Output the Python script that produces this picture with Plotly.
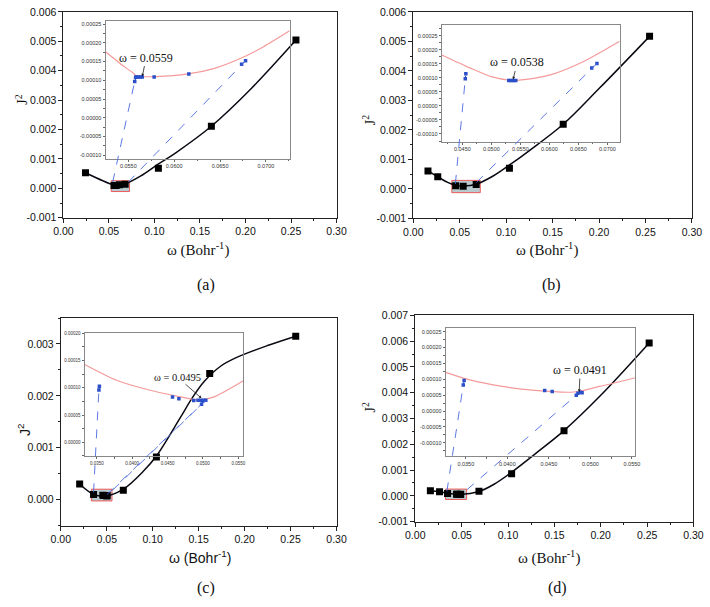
import plotly.graph_objects as go

W, H = 710, 607
SANS = "Liberation Sans, Arial, sans-serif"
SERIF = "Liberation Serif, Times New Roman, serif"

# ---------------- data ----------------
# panel (a)
a_w = [0.0242, 0.0557, 0.0559, 0.0563, 0.0566, 0.0578, 0.0616, 0.0678, 0.1043, 0.1625, 0.2554]
a_j2 = [0.00053, 0.0001, 0.0001, 0.0001, 0.0001, 0.0001, 0.00012, 0.00014, 0.00068, 0.00211, 0.00504]
a_fit_w = [0.0242, 0.0545, 0.060, 0.068, 0.085, 0.104, 0.123, 0.1625, 0.205, 0.2554]
a_fit_j2 = [0.00053, 0.00012, 0.0001, 0.00015, 0.00042, 0.00082, 0.0012, 0.00211, 0.00335, 0.00504]
a_in_w = [0.0557, 0.0558, 0.05588, 0.0561, 0.0563, 0.05652, None, 0.05782, None, 0.0616, None, 0.06735, 0.06778]
a_in_j2 = [0.000097, 0.000108, 0.000109, 0.000109, 0.000109, 0.000109, None, 0.000109, None, 0.000117, None, 0.000143, 0.000152]
a_in_fit_w = [0.05252, 0.0541, 0.0556, 0.0559, 0.058, 0.0615, 0.0644, 0.0672, 0.0697, 0.07258]
a_in_fit_j2 = [0.000176, 0.000145, 0.000118, 0.000111, 0.00011, 0.000117, 0.000132, 0.000158, 0.000189, 0.000232]
a_label = "ω = 0.0559"

# panel (b)
b_w = [0.0158, 0.0263, 0.0456, 0.0537, 0.0677, 0.1035, 0.1614, 0.2544]
b_j2 = [0.00061, 0.00041, 0.00011, 0.00009, 0.00015, 0.0007, 0.00219, 0.00517]
b_fit_w = [0.0158, 0.0263, 0.037, 0.0456, 0.0537, 0.0677, 0.085, 0.104, 0.125, 0.1614, 0.200, 0.2544]
b_fit_j2 = [0.00061, 0.00041, 0.00022, 0.00012, 0.0001, 0.00016, 0.00042, 0.00082, 0.0013, 0.00219, 0.0034, 0.00517]
b_in_w = [0.0455, 0.0456, None, 0.0530, 0.0534, 0.0538, 0.0542, None, 0.0673, 0.0682]
b_in_j2 = [0.0000965, 0.000114, None, 0.0000906, 0.0000906, 0.0000906, 0.0000906, None, 0.000135, 0.000151]
b_in_fit_w = [0.04145, 0.0463, 0.050, 0.0536, 0.057, 0.0603, 0.0659, 0.07211]
b_in_fit_j2 = [0.000181, 0.000135, 0.000104, 0.0000906, 0.000097, 0.000111, 0.000158, 0.00023]
b_label = "ω = 0.0538"

# panel (c)
c_w = [0.0205, 0.0356, 0.0457, 0.0466, 0.0487, 0.0495, 0.0500, 0.0504, 0.068, 0.104, 0.162, 0.2556]
c_j2 = [0.0003, 0.0001, 0.000083, 0.00008, 0.000077, 0.000077, 0.00007, 0.000077, 0.00018, 0.00082, 0.00243, 0.00315]
c_fit_w = [0.0205, 0.0356, 0.050, 0.068, 0.090, 0.104, 0.130, 0.143, 0.1562, 0.1738, 0.1914, 0.2267, 0.2556]
c_fit_j2 = [0.0003, 0.0001, 0.00007, 0.0002, 0.00055, 0.00084, 0.00158, 0.00196, 0.00228, 0.00257, 0.00274, 0.00298, 0.00315]
c_in_w = [0.0353, 0.03537, None, 0.0457, None, 0.0466, None, 0.0487, None, 0.0493, 0.0497, 0.0501, 0.0504, None, 0.0498, 0.0500]
c_in_j2 = [0.000096, 0.000103, None, 0.000083, None, 0.00008, None, 0.0000766, None, 0.000077, 0.000077, 0.000077, 0.000077, None, 0.00007, 0.000076]
c_in_fit_w = [0.03327, 0.0378, 0.0424, 0.047, 0.0492, 0.0515, 0.0557]
c_in_fit_j2 = [0.000143, 0.000114, 0.000096, 0.000083, 0.000078, 0.000083, 0.000113]
c_label = "ω = 0.0495"

# panel (d)
d_w = [0.0163, 0.0262, 0.0348, 0.0445, 0.0454, 0.0485, 0.0490, 0.0687, 0.1039, 0.1604, 0.2522]
d_j2 = [0.0002, 0.00016, 0.00009, 0.000065, 0.000062, 0.000056, 0.00006, 0.00018, 0.00086, 0.00253, 0.00593]
d_fit_w = [0.0163, 0.0262, 0.0359, 0.0475, 0.0687, 0.085, 0.104, 0.130, 0.1604, 0.200, 0.2522]
d_fit_j2 = [0.0002, 0.00016, 0.00009, 0.00006, 0.00017, 0.00045, 0.00092, 0.00165, 0.00253, 0.0039, 0.00593]
d_in_w = [0.0347, 0.0348, None, 0.0445, None, 0.0454, None, 0.0483, 0.0485, 0.0488, 0.0490]
d_in_j2 = [0.000082, 0.000096, None, 0.000065, None, 0.000062, None, 0.00005, 0.000056, 0.000059, 0.000058]
d_in_fit_w = [0.03258, 0.0355, 0.0394, 0.0433, 0.048, 0.0511, 0.05539]
d_in_fit_j2 = [0.000122, 0.000098, 0.0000775, 0.000065, 0.00006, 0.0000775, 0.000105]
d_label = "ω = 0.0491"

# tick values
main_xticks = [0.0, 0.05, 0.10, 0.15, 0.20, 0.25, 0.30]
ab_yticks = [-0.001, 0.0, 0.001, 0.002, 0.003, 0.004, 0.005, 0.006]
c_yticks = [0.0, 0.001, 0.002, 0.003]
d_yticks = [-0.001, 0.0, 0.001, 0.002, 0.003, 0.004, 0.005, 0.006, 0.007]
a_in_xticks = [0.055, 0.060, 0.065, 0.070]
b_in_xticks = [0.045, 0.050, 0.055, 0.060, 0.065, 0.070]
cd_in_xticks = [0.035, 0.040, 0.045, 0.050, 0.055]
abd_in_yticks = [-0.0001, -0.00005, 0.0, 0.00005, 0.0001, 0.00015, 0.0002, 0.00025]
c_in_yticks = [0.0, 0.00005, 0.0001, 0.00015, 0.0002]

# ---------------- layout geometry (pixel boxes) ----------------
panels = [
    dict(w=a_w, j=a_j2, fw=a_fit_w, fj=a_fit_j2, iw=a_in_w, ij=a_in_j2, ifw=a_in_fit_w, ifj=a_in_fit_j2,
         label=a_label, box=(55, 336, 6, 216), yr=(-0.001, 0.006), yt=ab_yticks,
         ibox=(98.3, 287.7, 15, 155.7), ixr=(0.05252, 0.07258), iyr=(-0.000109, 0.000259),
         ixt=a_in_xticks, iyt=abd_in_yticks, ifs=5.5,
         ann=(0.05652, 0.00011, 4, -19),
         conn=[((0.0541, 0.00021), (0.0557, 0.000097)), ((0.0712, 0.00021), (0.06778, 0.000152))],
         ylab=(12, 96), xlab=(193, 248), plab=(202, 285), name="(a)", tfont=SERIF),
    dict(w=b_w, j=b_j2, fw=b_fit_w, fj=b_fit_j2, iw=b_in_w, ij=b_in_j2, ifw=b_in_fit_w, ifj=b_in_fit_j2,
         label=b_label, box=(415, 701.7, 6, 216.7), yr=(-0.001, 0.006), yt=ab_yticks,
         ibox=(444.3, 627.3, 19, 138.3), ixr=(0.04145, 0.07211), iyr=(-0.000127, 0.000289),
         ixt=b_in_xticks, iyt=abd_in_yticks, ifs=5.5,
         ann=(0.05375, 0.000094, 4, -17),
         conn=[((0.0453, 0.00017), (0.0455, 0.0000965)), ((0.068, 0.00022), (0.0682, 0.000151))],
         ylab=(369, 117), xlab=(553, 248), plab=(557, 285), name="(b)", tfont=SERIF),
    dict(w=c_w, j=c_j2, fw=c_fit_w, fj=c_fit_j2, iw=c_in_w, ij=c_in_j2, ifw=c_in_fit_w, ifj=c_in_fit_j2,
         label=c_label, box=(52.3, 336, 318.3, 530), yr=(-0.0005, 0.0035), yt=c_yticks,
         ibox=(76.7, 240, 334, 459.3), ixr=(0.03327, 0.05569), iyr=(-0.0000257, 0.0002),
         ixt=cd_in_xticks, iyt=c_in_yticks, ifs=4.5,
         ann=(0.0498, 0.0000808, -24, -21),
         conn=[((0.0356, 0.00014), (0.0353, 0.000096)), ((0.0504, 0.0001), (0.0498, 0.00007)),
               ((0.0562, 0.00018), (0.0504, 0.000077))],
         ylab=(15, 433), xlab=(195, 562), plab=(202, 594), name="(c)", tfont=SANS),
    dict(w=d_w, j=d_j2, fw=d_fit_w, fj=d_fit_j2, iw=d_in_w, ij=d_in_j2, ifw=d_in_fit_w, ifj=d_in_fit_j2,
         label=d_label, box=(417, 703.3, 315.7, 526), yr=(-0.001, 0.007), yt=d_yticks,
         ibox=(448.3, 643.3, 328.3, 459.3), ixr=(0.03258, 0.05539), iyr=(-0.000142, 0.000262),
         ixt=cd_in_xticks, iyt=abd_in_yticks, ifs=5.5,
         ann=(0.04865, 0.00006, 1, -22),
         conn=[((0.0341, 0.000175), (0.0347, 0.000082)), ((0.0558, 0.00024), (0.0483, 0.00005))],
         ylab=(369, 410), xlab=(555, 563), plab=(563, 594), name="(d)", tfont=SERIF),
]


def dom_x(x0, x1):
    return [x0 / W, x1 / W]


def dom_y(y0, y1):
    return [1 - y1 / H, 1 - y0 / H]


def to_paper(box, xr, yr, x, y):
    x0, x1, y0, y1 = box
    px = x0 + (x - xr[0]) / (xr[1] - xr[0]) * (x1 - x0)
    py = y1 - (y - yr[0]) / (yr[1] - yr[0]) * (y1 - y0)
    return px / W, 1 - py / H


fig = go.Figure()
layout = dict(width=W, height=H, margin=dict(l=0, r=0, t=0, b=0),
              paper_bgcolor="white", plot_bgcolor="rgba(0,0,0,0)", showlegend=False)
shapes, annotations = [], []

BLUE = "#2a4fc9"
PINK = "#f59a9a"

for i, p in enumerate(panels):
    m = i + 1
    n = i + 5
    mx, my = ("x" if m == 1 else f"x{m}"), ("y" if m == 1 else f"y{m}")
    nx, ny = f"x{n}", f"y{n}"
    mxk, myk = ("xaxis" if m == 1 else f"xaxis{m}"), ("yaxis" if m == 1 else f"yaxis{m}")
    nxk, nyk = f"xaxis{n}", f"yaxis{n}"
    bx0, bx1, by0, by1 = p["box"]
    ix0, ix1, iy0, iy1 = p["ibox"]

    layout[mxk] = dict(domain=dom_x(bx0, bx1), anchor=my, range=[0, 0.30],
                       tickvals=main_xticks, ticktext=[f"{v:.2f}" for v in main_xticks],
                       ticks="outside", ticklen=4, tickcolor="#222", showline=True, mirror=True,
                       linecolor="#222", linewidth=1, showgrid=False, zeroline=False,
                       tickfont=dict(family=SANS, size=10.5, color="#111"),
                       minor=dict(dtick=0.025, tick0=0, ticks="outside", ticklen=2, tickcolor="#222"))
    layout[myk] = dict(domain=dom_y(by0, by1), anchor=mx, range=list(p["yr"]),
                       tickvals=p["yt"], ticktext=[f"{v:.3f}" for v in p["yt"]],
                       ticks="outside", ticklen=4, tickcolor="#222", showline=True, mirror=True,
                       linecolor="#222", linewidth=1, showgrid=False, zeroline=False,
                       tickfont=dict(family=SANS, size=10.5, color="#111"),
                       minor=dict(dtick=0.0005, tick0=0, ticks="outside", ticklen=2, tickcolor="#222"))
    layout[nxk] = dict(domain=dom_x(ix0, ix1), anchor=ny, range=list(p["ixr"]),
                       tickvals=p["ixt"], ticktext=[f"{v:.4f}" for v in p["ixt"]],
                       ticks="outside", ticklen=2, tickcolor="#666", showline=True, mirror=True,
                       linecolor="#888", linewidth=1, showgrid=False, zeroline=False,
                       tickfont=dict(family=SANS, size=p["ifs"], color="#333"),
                       minor=dict(dtick=0.0025, tick0=0, ticks="outside", ticklen=1.5, tickcolor="#666"))
    layout[nyk] = dict(domain=dom_y(iy0, iy1), anchor=nx, range=list(p["iyr"]),
                       tickvals=p["iyt"], ticktext=[f"{v:.5f}" for v in p["iyt"]],
                       ticks="outside", ticklen=2, tickcolor="#666", showline=True, mirror=True,
                       linecolor="#888", linewidth=1, showgrid=False, zeroline=False,
                       tickfont=dict(family=SANS, size=p["ifs"], color="#333"),
                       minor=dict(dtick=0.000025, tick0=0, ticks="outside", ticklen=1.5, tickcolor="#666"))

    shapes.append(dict(type="rect", xref=mx, yref=my, x0=p["ixr"][0], x1=p["ixr"][1],
                       y0=p["iyr"][0], y1=p["iyr"][1], fillcolor="#b9cace",
                       line=dict(color="#ee5a5a", width=1), layer="below"))

    fig.add_trace(go.Scatter(x=p["fw"], y=p["fj"], mode="lines", xaxis=mx, yaxis=my,
                             line=dict(color="#0a0a14", width=1.5, shape="spline", smoothing=1.0),
                             hoverinfo="skip"))
    fig.add_trace(go.Scatter(x=p["w"], y=p["j"], mode="markers", xaxis=mx, yaxis=my,
                             marker=dict(symbol="square", size=7, color="black")))
    fig.add_trace(go.Scatter(x=p["ifw"], y=p["ifj"], mode="lines", xaxis=nx, yaxis=ny,
                             line=dict(color=PINK, width=1.2, shape="spline", smoothing=0.7),
                             hoverinfo="skip"))
    fig.add_trace(go.Scatter(x=p["iw"], y=p["ij"], mode="lines+markers", xaxis=nx, yaxis=ny,
                             connectgaps=False, line=dict(color=BLUE, width=1, dash="dot"),
                             marker=dict(symbol="square", size=3.5, color=BLUE)))

    for (ma, ia) in p["conn"]:
        xa, ya = to_paper(p["box"], (0, 0.30), p["yr"], ma[0], ma[1])
        xb, yb = to_paper(p["ibox"], p["ixr"], p["iyr"], ia[0], ia[1])
        shapes.append(dict(type="line", xref="paper", yref="paper", x0=xa, y0=ya, x1=xb, y1=yb,
                           line=dict(color="#4a6ae0", width=0.9, dash="dash"), layer="above"))

    hx, hy, axo, ayo = p["ann"]
    annotations.append(dict(x=hx, y=hy, xref=nx, yref=ny, text=p["label"], showarrow=True,
                            ax=axo, ay=ayo, arrowhead=2, arrowsize=0.7, arrowwidth=0.8,
                            arrowcolor="#222", standoff=0,
                            font=dict(family=SERIF, size=12 if i != 2 else 10.5, color="#111")))
    annotations.append(dict(x=p["ylab"][0] / W, y=1 - p["ylab"][1] / H, xref="paper", yref="paper",
                            xanchor="center", yanchor="middle",
                            text="J<sup>2</sup>", showarrow=False, textangle=-90,
                            font=dict(family=p["tfont"], size=14, color="#111")))
    annotations.append(dict(x=p["xlab"][0] / W, y=1 - p["xlab"][1] / H, xref="paper", yref="paper",
                            xanchor="center", yanchor="middle",
                            text="ω (Bohr<sup>-1</sup>)", showarrow=False,
                            font=dict(family=p["tfont"], size=15 if i != 2 else 14, color="#111")))
    annotations.append(dict(x=p["plab"][0] / W, y=1 - p["plab"][1] / H, xref="paper", yref="paper",
                            xanchor="center", yanchor="middle",
                            text=p["name"], showarrow=False,
                            font=dict(family=SERIF, size=16, color="#111")))

layout["shapes"] = shapes
layout["annotations"] = annotations
fig.update_layout(**layout)
fig.write_html("out.html", config={"displayModeBar": False},
               post_script="document.body.style.margin='0';document.body.style.overflow='hidden';")
